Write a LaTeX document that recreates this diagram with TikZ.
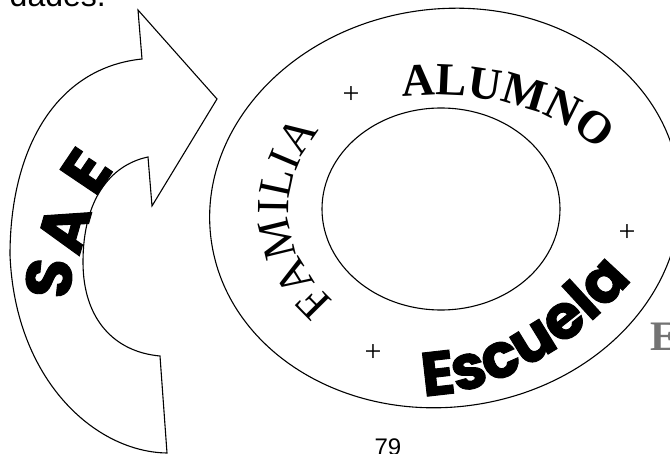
\documentclass[tikz,border=0pt]{standalone}
\usepackage{fontspec}
\setmainfont{Liberation Serif}
\setsansfont{Liberation Sans}
\newfontfamily\roundfont{Poppins}[BoldFeatures={FakeBold=1.5}]
\usetikzlibrary{decorations.text}

\newcommand\famfont{\fontsize{46}{46}\selectfont}
\newcommand\alumnofont{\bfseries\fontsize{46}{46}\selectfont}
\newcommand\escfont{\roundfont\bfseries\fontsize{62}{62}\selectfont}

\tikzset{
  outline/.style={line width=1.1pt, line join=miter},
  sign/.style={font=\fontsize{30}{30}\selectfont, inner sep=0pt},
  saeletter/.style={font=\roundfont\bfseries\fontsize{64}{64}\selectfont, inner sep=0pt},
  pagetext/.style={inner sep=0pt},
}

\begin{document}
\begin{tikzpicture}[x=1pt, y=-1pt]
  \useasboundingbox (0,0) rectangle (670,454);

  % SAE arrow
  \draw[outline] (142,59) .. controls (55,68) and (10,150) .. (10,255)
    .. controls (15,380) and (95,452) .. (167,453) -- (160,356)
    .. controls (115,352) and (83,320) .. (83,262)
    .. controls (83,200) and (110,165) .. (148,157)
    -- (152,206) -- (217,99) -- (138,10) -- cycle;
  \node[saeletter, rotate=84] (sae-s) at (49,278) {S};
  \node[saeletter, rotate=74] (sae-a) at (64,228) {A};
  \node[saeletter, rotate=56] (sae-e) at (86,171) {E};

  % Ring
  \draw[outline, rotate around={8:(445,208)}] (445,208) ellipse (236 and 199);
  \draw[outline] (441,209) ellipse (119 and 101);

  % Words round the ring
  \path[decorate, decoration={text along path, text align=center,
      text={|\famfont|FAMILIA}}]
    ([shift={(130:151 and 129)}]440,209)
    arc[start angle=130, end angle=222, x radius=151, y radius=129];
  \path[decorate, decoration={text along path, text align=center,
      text={|\alumnofont|ALUMNO}}]
    (380,100) .. controls (460,86) and (562,100) .. (614,168);
  \path[decorate, decoration={text along path, text align=center,
      text={|\escfont|Escuela}}]
    (414,396) .. controls (500,398) and (584,340) .. (638,272);

  % Plus signs
  \node[sign] (plus-top) at (351,95) {+};
  \node[sign] (plus-right) at (627,233) {+};
  \node[sign] (plus-bottom) at (373,353) {+};

  % Page remains
  \node[pagetext, font=\sffamily\fontsize{32}{32}\selectfont, anchor=base east] (cut-top) at (106,7) {dades.};
  \node[pagetext, font=\sffamily\fontsize{24}{24}\selectfont, anchor=base] (page-no) at (388,456) {79};
  \node[pagetext, font=\bfseries\fontsize{42}{42}\selectfont, text=black!55, anchor=base west] (cut-right) at (650,351) {E};
\end{tikzpicture}
\end{document}
